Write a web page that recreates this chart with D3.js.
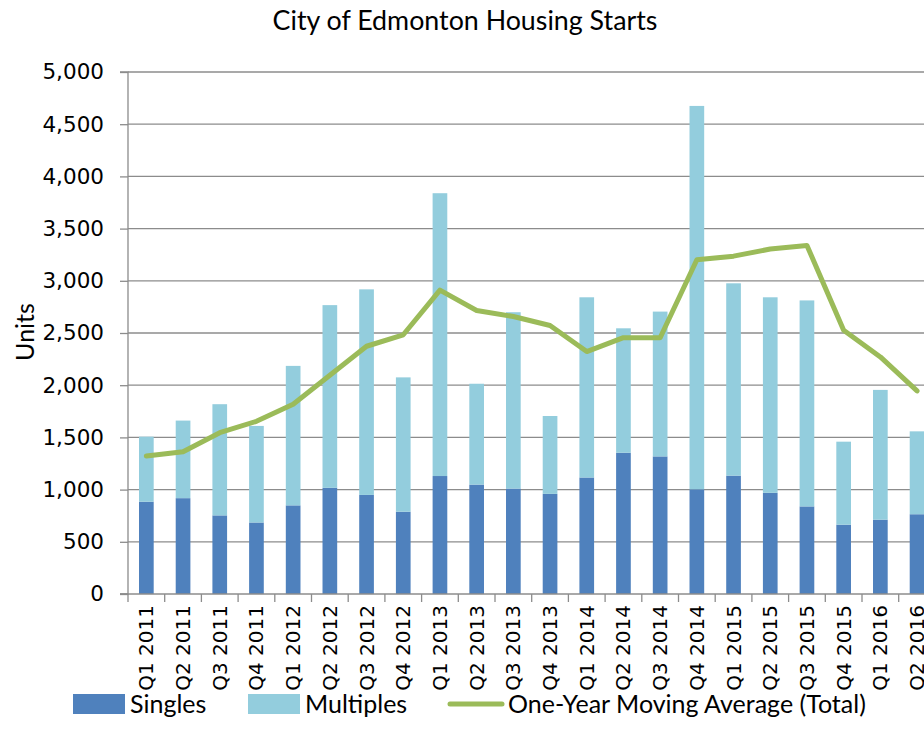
<!DOCTYPE html>
<html>
<head>
<meta charset="utf-8">
<script src="https://cdn.jsdelivr.net/npm/d3@7"></script>
<style>
  body { margin: 0; background: #fff; }
  svg { display: block; }
</style>
</head>
<body>
<div id="chart"></div>
<script>
const canvWidth = 924, canvHeight = 747;

// data
const quarters = ["Q1 2011", "Q2 2011", "Q3 2011", "Q4 2011", "Q1 2012", "Q2 2012", "Q3 2012", "Q4 2012",
    "Q1 2013", "Q2 2013", "Q3 2013", "Q4 2013", "Q1 2014", "Q2 2014", "Q3 2014", "Q4 2014",
    "Q1 2015", "Q2 2015", "Q3 2015", "Q4 2015", "Q1 2016", "Q2 2016"];
const singles = [884, 918, 753, 685, 849, 1017, 949, 788, 1130, 1048, 1010, 959,
    1116, 1353, 1318, 1003, 1134, 969, 839, 664, 712, 764];
const multiples = [623, 743, 1065, 925, 1336, 1750, 1969, 1287, 2709, 966, 1689, 746,
    1726, 1192, 1387, 3672, 1842, 1873, 1973, 795, 1243, 794];
const movingAvg = [1322, 1363, 1545, 1654, 1818, 2095, 2373, 2483, 2911, 2716, 2658, 2572,
    2322, 2455, 2455, 3202, 3236, 3305, 3339, 2527, 2271, 1945];
const yTicks = [0, 500, 1000, 1500, 2000, 2500, 3000, 3500, 4000, 4500, 5000];

const colSingles = "#4f81bd", colMultiples = "#93cddd", colLine = "#9bbb59", colGrid = "#8c8c8c";
const tickFont = "'DejaVu Sans', Verdana, sans-serif";
const textFont = "Lato, 'Open Sans', sans-serif";

const plotLeft = 128, plotTop = 72, plotBottom = 594;
const step = 36.7;

const svg = d3.select("#chart")
    .append("svg")
    .attr("width", canvWidth)
    .attr("height", canvHeight);

const rows = quarters.map((q, i) => ({q: q, singles: singles[i], multiples: multiples[i], avg: movingAvg[i]}));

const xScale = d3.scaleBand()
    .domain(quarters)
    .range([plotLeft, plotLeft + step * quarters.length])
    .paddingInner(0.6)
    .paddingOuter(0.3);
const yScale = d3.scaleLinear()
    .domain([0, 5000])
    .range([plotBottom, plotTop]);

// gridlines
svg.append("g")
    .selectAll("line")
    .data(yTicks.filter(d => d > 0))
    .enter()
    .append("line")
    .attr("x1", plotLeft)
    .attr("x2", canvWidth)
    .attr("y1", d => yScale(d))
    .attr("y2", d => yScale(d))
    .attr("stroke", colGrid)
    .attr("stroke-width", 1.3);

// y axis
const yAxis = svg.append("g")
    .attr("transform", `translate(${plotLeft},0)`)
    .call(d3.axisLeft(yScale).tickValues(yTicks).tickFormat(d3.format(",")).tickSize(8).tickPadding(16));
yAxis.selectAll("line, path").attr("stroke", colGrid).attr("stroke-width", 1.3);
yAxis.select(".domain").attr("d", `M-8,${plotTop}H0V${plotBottom}H-8`);
yAxis.selectAll("text")
    .style("font-family", tickFont)
    .style("font-size", "21.5px")
    .attr("fill", "#000");

// stacked bars
const stack = d3.stack().keys(["singles", "multiples"])(rows);
const colours = {singles: colSingles, multiples: colMultiples};
svg.append("g")
    .selectAll("g")
    .data(stack)
    .enter()
    .append("g")
    .attr("fill", d => colours[d.key])
    .selectAll("rect")
    .data(d => d)
    .enter()
    .append("rect")
    .attr("x", d => xScale(d.data.q))
    .attr("width", xScale.bandwidth())
    .attr("y", d => yScale(d[1]))
    .attr("height", d => yScale(d[0]) - yScale(d[1]));

// x axis
const xAxisG = svg.append("g");
xAxisG.append("line")
    .attr("x1", plotLeft - 8)
    .attr("x2", canvWidth)
    .attr("y1", plotBottom)
    .attr("y2", plotBottom)
    .attr("stroke", colGrid)
    .attr("stroke-width", 1.3);
xAxisG.selectAll(".tick")
    .data(quarters)
    .enter()
    .append("line")
    .attr("x1", d => xScale(d) - xScale.step() * 0.3)
    .attr("x2", d => xScale(d) - xScale.step() * 0.3)
    .attr("y1", plotBottom)
    .attr("y2", plotBottom + 8)
    .attr("stroke", colGrid)
    .attr("stroke-width", 1.3);
xAxisG.selectAll("text")
    .data(quarters)
    .enter()
    .append("text")
    .attr("transform", d => `translate(${xScale(d) + xScale.bandwidth() / 2},${plotBottom + 11}) rotate(-90)`)
    .attr("dy", "0.35em")
    .style("text-anchor", "end")
    .style("font-family", tickFont)
    .style("font-size", "20px")
    .text(d => d);

// moving average line
svg.append("path")
    .datum(rows)
    .attr("fill", "none")
    .attr("stroke", colLine)
    .attr("stroke-width", 5)
    .attr("stroke-linejoin", "round")
    .attr("stroke-linecap", "round")
    .attr("d", d3.line()
        .x(d => xScale(d.q) + xScale.bandwidth() / 2)
        .y(d => yScale(d.avg)));

// title
svg.append("text")
    .attr("x", 465)
    .attr("y", 30)
    .style("text-anchor", "middle")
    .style("font-family", textFont)
    .style("font-size", "26.8px")
    .text("City of Edmonton Housing Starts");

// y axis title
svg.append("text")
    .attr("transform", "translate(25,332) rotate(-90)")
    .attr("dy", "0.35em")
    .style("text-anchor", "middle")
    .style("font-family", textFont)
    .style("font-size", "25px")
    .text("Units");

// legend
const legend = svg.append("g").attr("transform", "translate(0,704)");
const legendItems = [
    {label: "Singles", type: "rect", color: colSingles, x: 73, tx: 130},
    {label: "Multiples", type: "rect", color: colMultiples, x: 248, tx: 305},
    {label: "One-Year Moving Average (Total)", type: "line", color: colLine, x: 448, tx: 508}
];
legendItems.forEach(function (it) {
    if (it.type === "rect") {
        legend.append("rect")
            .attr("x", it.x)
            .attr("y", -10)
            .attr("width", 52)
            .attr("height", 20)
            .attr("fill", it.color);
    } else {
        legend.append("line")
            .attr("x1", it.x + 2)
            .attr("x2", it.x + 54)
            .attr("y1", 0)
            .attr("y2", 0)
            .attr("stroke", it.color)
            .attr("stroke-width", 5)
            .attr("stroke-linecap", "round");
    }
    legend.append("text")
        .attr("x", it.tx)
        .attr("y", 0)
        .attr("dy", "0.35em")
        .style("font-family", textFont)
        .style("font-size", "25px")
        .text(it.label);
});
</script>
</body>
</html>
